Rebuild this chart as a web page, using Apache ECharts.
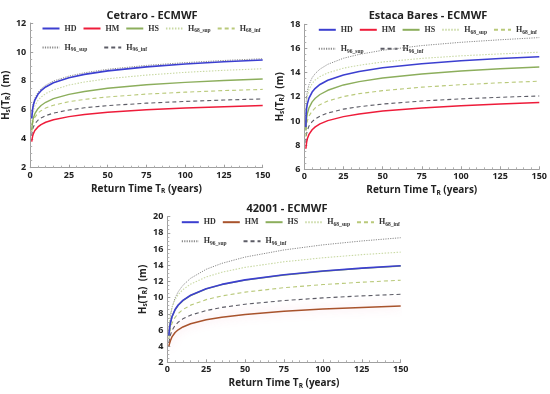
<!DOCTYPE html>
<html>
<head>
<meta charset="utf-8">
<script src="https://cdn.jsdelivr.net/npm/echarts@6/dist/echarts.min.js"></script>
<style>html,body{margin:0;padding:0;background:#fff}#c{width:550px;height:394px}</style>
</head>
<body>
<div id="c"></div>
<script>
// ---- data ----
const returnT = [1, 1.2, 1.5, 2, 3, 5, 7, 10, 15, 25, 35, 50, 75, 100, 125, 150];
const xTicks = [0, 25, 50, 75, 100, 125, 150];

const chartTitles = ['Cetraro - ECMWF', 'Estaca Bares - ECMWF', '42001 - ECMWF'];
const seriesKeys = ['HD', 'HM', 'HS', 'H68_sup', 'H68_inf', 'H96_sup', 'H96_inf'];

// Cetraro
const cetHD     = [5.4, 5.67, 6.00, 6.31, 6.67, 7.07, 7.32, 7.58, 7.87, 8.22, 8.45, 8.69, 8.97, 9.17, 9.32, 9.44];
const cetHM     = [3.8, 3.95, 4.15, 4.34, 4.57, 4.82, 4.98, 5.14, 5.31, 5.53, 5.68, 5.83, 6.00, 6.12, 6.22, 6.29];
const cetHS     = [4.6, 4.86, 5.15, 5.42, 5.73, 6.08, 6.30, 6.52, 6.77, 7.07, 7.27, 7.49, 7.73, 7.90, 8.03, 8.13];
const cetH68sup = [5.0, 5.35, 5.65, 5.94, 6.27, 6.65, 6.88, 7.12, 7.38, 7.71, 7.92, 8.15, 8.40, 8.59, 8.73, 8.84];
const cetH68inf = [4.5, 4.79, 5.02, 5.23, 5.48, 5.77, 5.94, 6.12, 6.32, 6.56, 6.72, 6.89, 7.09, 7.22, 7.33, 7.41];
const cetH96sup = [5.5, 5.82, 6.15, 6.45, 6.81, 7.21, 7.45, 7.70, 7.99, 8.33, 8.56, 8.80, 9.07, 9.26, 9.41, 9.53];
const cetH96inf = [4.2, 4.41, 4.61, 4.80, 5.03, 5.28, 5.44, 5.60, 5.77, 5.99, 6.14, 6.29, 6.46, 6.58, 6.68, 6.75];
const cetYTicks = [2, 4, 6, 8, 10, 12];

// Estaca Bares
const estHD     = [9.5, 10.65, 11.06, 11.45, 11.89, 12.39, 12.70, 13.02, 13.37, 13.81, 14.10, 14.40, 14.74, 14.98, 15.17, 15.32];
const estHM     = [7.7, 7.94, 8.25, 8.55, 8.89, 9.27, 9.51, 9.76, 10.03, 10.36, 10.58, 10.82, 11.08, 11.26, 11.41, 11.52];
const estHS     = [9.2, 9.86, 10.26, 10.64, 11.08, 11.58, 11.88, 12.19, 12.54, 12.98, 13.26, 13.56, 13.89, 14.13, 14.32, 14.47];
const estH68sup = [9.8, 11.2, 11.7, 12.1, 12.6, 13.1, 13.4, 13.67, 13.98, 14.37, 14.61, 14.88, 15.18, 15.39, 15.55, 15.69];
const estH68inf = [8.7, 9.36, 9.70, 10.03, 10.40, 10.82, 11.08, 11.35, 11.65, 12.02, 12.26, 12.51, 12.80, 13.00, 13.16, 13.29];
const estH96sup = [10.0, 11.61, 12.07, 12.51, 13.01, 13.58, 13.93, 14.29, 14.69, 15.19, 15.51, 15.85, 16.24, 16.51, 16.72, 16.90];
const estH96inf = [8.2, 8.68, 8.97, 9.25, 9.58, 9.94, 10.17, 10.40, 10.66, 10.98, 11.18, 11.40, 11.65, 11.83, 11.96, 12.07];
const estYTicks = [6, 8, 10, 12, 14, 16, 18];

// 42001
const buoyHD     = [5.3, 5.75, 6.25, 6.86, 7.63, 8.52, 9.08, 9.65, 10.29, 11.1, 11.63, 12.19, 12.83, 13.29, 13.64, 13.93];
const buoyHM     = [4.0, 4.15, 4.35, 4.67, 5.14, 5.68, 6.02, 6.37, 6.76, 7.25, 7.57, 7.92, 8.30, 8.58, 8.79, 8.97];
const buoyHS     = [5.25, 5.7, 6.2, 6.82, 7.6, 8.49, 9.05, 9.62, 10.26, 11.07, 11.6, 12.16, 12.8, 13.26, 13.61, 13.9];
const buoyH68sup = [5.5, 6.3, 7.1, 7.9, 8.79, 9.75, 10.36, 10.98, 11.67, 12.55, 13.13, 13.74, 14.43, 14.92, 15.31, 15.62];
const buoyH68inf = [4.9, 5.16, 5.64, 6.16, 6.81, 7.56, 8.03, 8.52, 9.07, 9.75, 10.20, 10.68, 11.22, 11.61, 11.90, 12.15];
const buoyH96sup = [5.6, 6.2, 6.85, 7.67, 8.73, 9.95, 10.72, 11.51, 12.39, 13.5, 14.23, 15.01, 15.89, 16.52, 17.00, 17.40];
const buoyH96inf = [4.4, 4.6, 4.94, 5.38, 5.93, 6.56, 6.96, 7.37, 7.83, 8.4, 8.78, 9.18, 9.63, 9.96, 10.21, 10.41];
const buoyYTicks = [2, 4, 6, 8, 10, 12, 14, 16, 18, 20];

// ---- layout / style ----
const panels = [
  { id: 'c', data: [cetHD, cetHM, cetHS, cetH68sup, cetH68inf, cetH96sup, cetH96inf], yt: cetYTicks,
    grid: { left: 28, top: 23, width: 234.7, height: 144.7 }, titleX: 147, titleY: 5, hmColor: '#ee1c3a', hmGlow: false },
  { id: 'e', data: [estHD, estHM, estHS, estH68sup, estH68inf, estH96sup, estH96inf], yt: estYTicks,
    grid: { left: 304.3, top: 24.3, width: 235, height: 145 }, titleX: 423, titleY: 5, hmColor: '#ee1c3a', hmGlow: false },
  { id: 'a', data: [buoyHD, buoyHM, buoyHS, buoyH68sup, buoyH68inf, buoyH96sup, buoyH96inf], yt: buoyYTicks,
    grid: { left: 167.3, top: 216.7, width: 233.4, height: 145.6 }, titleX: 282, titleY: 198, hmColor: '#a8532c', hmGlow: true }
];

const styles = {
  HD:      { color: '#3c3fd0', width: 1.6, type: 'solid' },
  HS:      { color: '#8cae5c', width: 1.4, type: 'solid' },
  H68_sup: { color: '#c9d9a4', width: 1.1, type: [1.5, 1.5] },
  H68_inf: { color: '#b9c97a', width: 1.1, type: [4, 3] },
  H96_sup: { color: '#8a8a8a', width: 1.0, type: [1.2, 1.2] },
  H96_inf: { color: '#5c5c66', width: 1.1, type: [4, 3] }
};

const FONT = 'Open Sans';
const option = {
  animation: false,
  backgroundColor: '#fff',
  title: [], grid: [], xAxis: [], yAxis: [], legend: [], series: []
};

function legendFormatter(name) {
  const n = name.split(':')[1];
  if (n.length > 2) return '{m|H}{s|' + n.slice(1) + '}';
  return '{m|' + n + '}';
}
const legendRich = {
  m: { fontFamily: 'Liberation Serif', fontWeight: 'bold', fontSize: 8, color: '#333', lineHeight: 12 },
  s: { fontFamily: 'Liberation Serif', fontWeight: 'bold', fontSize: 5.5, color: '#333', lineHeight: 12, padding: [5, 0, 0, 0] }
};

panels.forEach((p, i) => {
  option.title.push({
    text: chartTitles[i], left: p.titleX, top: p.titleY, textAlign: 'center',
    textStyle: { fontFamily: FONT, fontWeight: 'bold', fontSize: 11, color: '#222' }
  });
  option.grid.push(p.grid);
  option.xAxis.push({
    type: 'value', gridIndex: i, min: 0, max: 150, interval: 25,
    name: 'Return Time {t|T}{r|R} (years)', nameLocation: 'middle', nameGap: 15,
    nameTextStyle: { fontFamily: FONT, fontWeight: 'bold', fontSize: 10, color: '#222',
      rich: { t: { fontFamily: FONT, fontWeight: 'bold', fontSize: 10, color: '#222' },
              r: { fontFamily: FONT, fontWeight: 'bold', fontSize: 6.5, color: '#222', padding: [5, 0, 0, 0] } } },
    axisLine: { lineStyle: { color: '#a0a0a0', width: 1 } },
    axisTick: { inside: true, length: 3, lineStyle: { color: '#a0a0a0' } },
    minorTick: { show: true, splitNumber: 5, length: 2, lineStyle: { color: '#b0b0b0' } },
    splitLine: { show: false },
    axisLabel: { fontFamily: FONT, fontWeight: 'bold', fontSize: 9, color: '#222', margin: 3,
      customValues: xTicks }
  });
  option.yAxis.push({
    type: 'value', gridIndex: i, min: p.yt[0], max: p.yt[p.yt.length - 1], interval: 2,
    name: '{h|H}{s|s}{h|(T}{s|R}{h|)  (m)}', nameLocation: 'middle', nameGap: 14, nameRotate: 90,
    nameTextStyle: { rich: {
      h: { fontFamily: FONT, fontWeight: 'bold', fontSize: 10, color: '#222' },
      s: { fontFamily: FONT, fontWeight: 'bold', fontSize: 6.5, color: '#222', padding: [5, 0, 0, 0] } } },
    axisLine: { show: true, lineStyle: { color: '#a0a0a0', width: 1 } },
    axisTick: { show: true, inside: true, length: 3, lineStyle: { color: '#a0a0a0' } },
    minorTick: { show: true, splitNumber: 4, length: 2, lineStyle: { color: '#b0b0b0' } },
    splitLine: { show: false },
    axisLabel: { fontFamily: FONT, fontWeight: 'bold', fontSize: 9, color: '#222', margin: 4,
      customValues: p.yt }
  });
  const names = seriesKeys.map(k => p.id + ':' + k);
  seriesKeys.forEach((k, j) => {
    const st = k === 'HM' ? { color: p.hmColor, width: 1.5, type: 'solid' } : styles[k];
    const ls = { color: st.color, width: st.width, type: st.type };
    if (k === 'HM' && p.hmGlow) { ls.shadowColor = 'rgba(240,140,170,0.45)'; ls.shadowBlur = 10; }
    option.series.push({
      type: 'line', name: names[j], xAxisIndex: i, yAxisIndex: i,
      data: returnT.map((t, n) => [t, p.data[j][n]]),
      symbol: 'none', smooth: false, z: 10 - j,
      lineStyle: ls,
      itemStyle: { color: st.color }
    });
  });
  const lx = p.grid.left + 8.5;
  const common = { itemWidth: 17, itemHeight: 8, formatter: legendFormatter,
    textStyle: { rich: legendRich }, selectedMode: false, itemStyle: { opacity: 0 } };
  option.legend.push(Object.assign({ data: names.slice(0, 5), left: lx, top: p.grid.top - 5, itemGap: 6 }, common));
  option.legend.push(Object.assign({ data: names.slice(5), left: lx, top: p.grid.top + 14, itemGap: 16 }, common));
});

const chart = echarts.init(document.getElementById('c'), null, { renderer: 'canvas' });
chart.setOption(option);
</script>
</body>
</html>
